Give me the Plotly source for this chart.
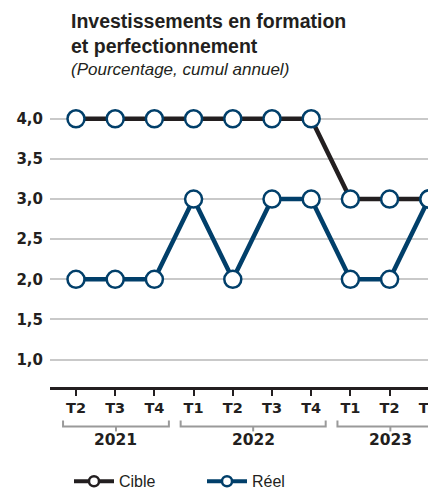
import plotly.graph_objects as go

# ---- data ----
quarters = ["T2", "T3", "T4", "T1", "T2", "T3", "T4", "T1", "T2", "T3"]
year_labels = ["2021", "2022", "2023"]
year_counts = [3, 4, 3]
cible = [4.0, 4.0, 4.0, 4.0, 4.0, 4.0, 4.0, 3.0, 3.0, 3.0]
reel = [2.0, 2.0, 2.0, 3.0, 2.0, 3.0, 3.0, 2.0, 2.0, 3.0]
y_ticks = [1.0, 1.5, 2.0, 2.5, 3.0, 3.5, 4.0]

# ---- style ----
W, H = 436, 489
OFF = 8  # page body margin
ML, MR, MT, MB = 42, 0, 87, 109.5
TXT = "#231f20"
NAVY = "#013f6a"
GRID = "#c9c9c9"
BRACKET = "#9a9a9a"
PLOT_H = H - MT - MB
PLOT_W = W - ML - MR


def py(px):
    """paper y from on-screen pixel y"""
    return (H - MB - (px - OFF)) / PLOT_H


def pxx(px):
    """paper x from on-screen pixel x"""
    return ((px - OFF) - ML) / PLOT_W


xs = list(range(len(quarters)))

fig = go.Figure()
marker_style = dict(size=17, color="white", line=dict(color=NAVY, width=2.5))
fig.add_trace(go.Scatter(x=xs, y=cible, mode="lines+markers", name="Cible",
                         line=dict(color=TXT, width=4.5), marker=marker_style,
                         showlegend=False, cliponaxis=False))
fig.add_trace(go.Scatter(x=xs, y=reel, mode="lines+markers", name="Réel",
                         line=dict(color=NAVY, width=4.5), marker=marker_style,
                         showlegend=False, cliponaxis=False))
# legend entries
fig.add_trace(go.Scatter(x=[None], y=[None], mode="lines+markers", name="Cible",
                         line=dict(color=TXT, width=4),
                         marker=dict(size=10, color="white", line=dict(color=TXT, width=2.5))))
fig.add_trace(go.Scatter(x=[None], y=[None], mode="lines+markers", name="Réel",
                         line=dict(color=NAVY, width=4),
                         marker=dict(size=10, color="white", line=dict(color=NAVY, width=2.5))))

shapes = []
annotations = []
start = 0
for lab, n in zip(year_labels, year_counts):
    x0 = start - 0.33
    x1 = start + n - 1 + 0.37
    xc = (x0 + x1) / 2
    yb = py(427)
    shapes.append(dict(type="path", xref="x", yref="paper",
                       path=f"M {x0} {py(421)} L {x0} {yb} L {x1} {yb} L {x1} {py(421)}",
                       line=dict(color=BRACKET, width=2)))
    shapes.append(dict(type="line", xref="x", yref="paper", x0=xc, x1=xc, y0=yb, y1=py(432),
                       line=dict(color=BRACKET, width=2)))
    annotations.append(dict(x=xc, y=py(441), xref="x", yref="paper", text=lab, showarrow=False,
                            xanchor="center", yanchor="middle",
                            font=dict(family="DejaVu Sans", size=15.5, color=TXT, weight="bold")))
    start += n

annotations.append(dict(x=pxx(69), y=py(8), xref="paper", yref="paper", xanchor="left", yanchor="top",
                        text="Investissements en formation<br>et perfectionnement", align="left",
                        showarrow=False,
                        font=dict(family="Liberation Sans", size=19.5, color=TXT, weight="bold")))
annotations.append(dict(x=pxx(69), y=py(58), xref="paper", yref="paper", xanchor="left", yanchor="top",
                        text="<i>(Pourcentage, cumul annuel)</i>", align="left", showarrow=False,
                        font=dict(family="Liberation Sans", size=17, color=TXT)))

fig.update_layout(
    width=W, height=H,
    margin=dict(l=ML, r=MR, t=MT, b=MB, autoexpand=False),
    paper_bgcolor="white", plot_bgcolor="white",
    separators=", ",
    shapes=shapes, annotations=annotations,
    showlegend=True,
    legend=dict(orientation="h", x=pxx(69), y=py(482), xanchor="left", yanchor="middle",
                font=dict(family="Liberation Sans", size=16, color=TXT),
                itemwidth=40, entrywidth=78, bgcolor="rgba(0,0,0,0)"),
    xaxis=dict(range=[-0.663, 9.388], tickvals=xs, ticktext=quarters,
               showgrid=False, zeroline=False, showline=True, linecolor=TXT, linewidth=3,
               ticks="outside", ticklen=6, tickwidth=1.5, tickcolor=TXT,
               tickfont=dict(family="DejaVu Sans", size=14.5, color=TXT, weight="bold")),
    yaxis=dict(range=[0.658, 4.296], tickvals=y_ticks, tickformat=".1f",
               showgrid=True, gridcolor=GRID, gridwidth=1.5, zeroline=False, showline=False,
               ticks="", ticklabelstandoff=6,
               tickfont=dict(family="DejaVu Sans", size=15, color=TXT, weight="bold")),
)

fig.write_html("out.html")
